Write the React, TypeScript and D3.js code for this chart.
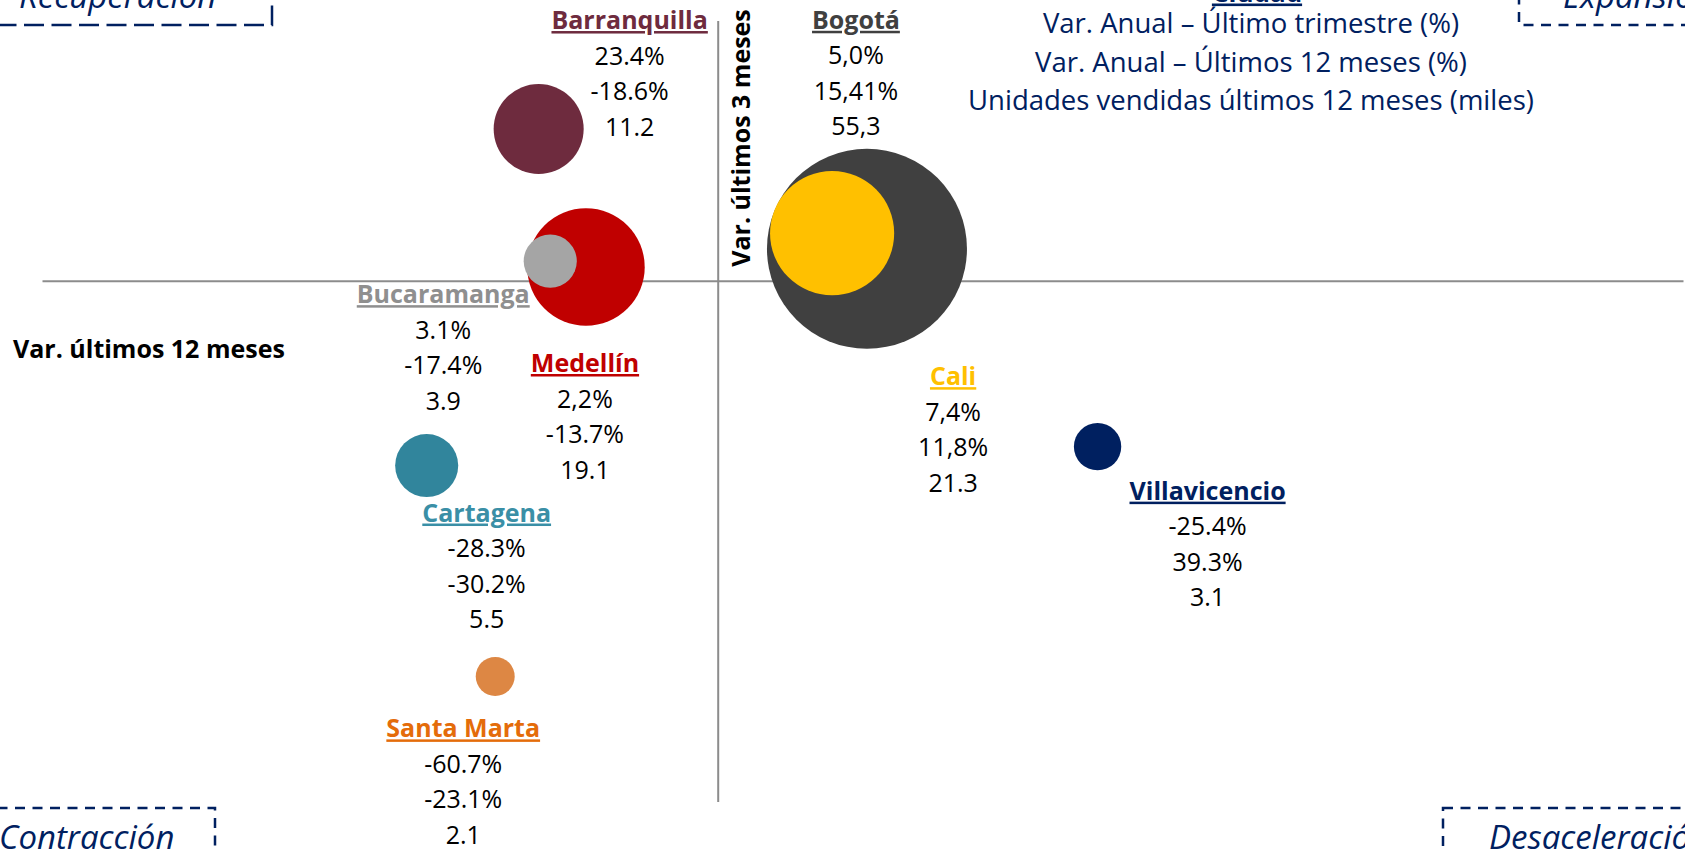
import React, { useEffect, useRef } from "react";
import * as d3 from "d3";

// Datos por ciudad
const cities = ["Bogotá", "Cali", "Medellín", "Bucaramanga", "Barranquilla", "Cartagena", "Santa Marta", "Villavicencio"];
const varTrimestre = [5.0, 7.4, 2.2, 3.1, 23.4, -28.3, -60.7, -25.4];
const var12Meses = [15.41, 11.8, -13.7, -17.4, -18.6, -30.2, -23.1, 39.3];
const unidades = [55.3, 21.3, 19.1, 3.9, 11.2, 5.5, 2.1, 3.1];

// Etiquetas tal como aparecen en la lámina
const trimLabels = ["5,0%", "7,4%", "2,2%", "3.1%", "23.4%", "-28.3%", "-60.7%", "-25.4%"];
const meses12Labels = ["15,41%", "11,8%", "-13.7%", "-17.4%", "-18.6%", "-30.2%", "-23.1%", "39.3%"];
const unidadesLabels = ["55,3", "21.3", "19.1", "3.9", "11.2", "5.5", "2.1", "3.1"];

const legendLines = [
  "Var. Anual – Último trimestre (%)",
  "Var. Anual – Últimos 12 meses (%)",
  "Unidades vendidas últimos 12 meses (miles)",
];

const quadrants = ["Recuperación", "Expansión", "Contracción", "Desaceleración"];

const W = 1685;
const H = 850;

const bubbleColors: Record<string, string> = {
  "Bogotá": "#404040",
  "Cali": "#FFC000",
  "Medellín": "#C00000",
  "Bucaramanga": "#A5A5A5",
  "Barranquilla": "#6E2B3E",
  "Cartagena": "#31859C",
  "Santa Marta": "#DD8744",
  "Villavicencio": "#002060",
};

const nameColors: Record<string, string> = {
  ...bubbleColors,
  "Bucaramanga": "#8F8F8F",
  "Santa Marta": "#E46C0A",
  "Cartagena": "#3A8FA6",
};

// desplazamiento de cada bloque de etiqueta respecto al centro de la burbuja
const labelOffset: Record<string, [number, number]> = {
  "Bogotá": [-11, -220],
  "Cali": [121, 152],
  "Medellín": [-1, 105],
  "Bucaramanga": [-107, 42],
  "Barranquilla": [91, -100],
  "Cartagena": [60, 56],
  "Santa Marta": [-32, 61],
  "Villavicencio": [110, 53],
};

const NAVY = "#002060";
const FONT = "'Open Sans', 'Noto Sans', sans-serif";

const App: React.FC = () => {
  const svgRef = useRef<SVGSVGElement>(null);

  useEffect(() => {
    if (!svgRef.current) return;
    const svg = d3.select(svgRef.current);
    svg.selectAll("*").remove();

    const x = d3.scaleLinear().domain([-70, 100]).range([42.5, 1683.5]);
    const y = d3.scaleLinear().domain([-80, 40]).range([802, 21]);
    const r = d3.scaleSqrt().domain([0, d3.max(unidades) as number]).range([0, 100]);

    // Ejes (cruz)
    svg.append("line")
      .attr("x1", x(-70)).attr("x2", x(100))
      .attr("y1", y(0)).attr("y2", y(0))
      .attr("stroke", "#8C8C8C").attr("stroke-width", 2);
    svg.append("line")
      .attr("x1", x(0)).attr("x2", x(0))
      .attr("y1", y(40)).attr("y2", y(-80))
      .attr("stroke", "#8C8C8C").attr("stroke-width", 2);

    // Burbujas
    const data = cities.map((c, i) => ({
      city: c,
      t: varTrimestre[i],
      m: var12Meses[i],
      u: unidades[i],
      i,
    }));

    svg.append("g")
      .selectAll("circle")
      .data(data)
      .enter()
      .append("circle")
      .attr("cx", d => x(d.m))
      .attr("cy", d => y(d.t))
      .attr("r", d => r(d.u))
      .attr("fill", d => bubbleColors[d.city]);

    // Etiquetas
    const lineH = 35.5;
    data.forEach(d => {
      const [dx, dy] = labelOffset[d.city];
      const cx = x(d.m) + dx;
      const by = y(d.t) + dy;
      svg.append("text")
        .attr("x", cx).attr("y", by)
        .attr("text-anchor", "middle")
        .attr("font-family", FONT)
        .attr("font-size", 25)
        .attr("font-weight", "bold")
        .attr("fill", nameColors[d.city])
        .style("text-decoration", "underline")
        .text(d.city);
      [trimLabels[d.i], meses12Labels[d.i], unidadesLabels[d.i]].forEach((s, k) => {
        svg.append("text")
          .attr("x", cx).attr("y", by + lineH * (k + 1))
          .attr("text-anchor", "middle")
          .attr("font-family", FONT)
          .attr("font-size", 25)
          .attr("fill", "#000")
          .text(s);
      });
    });

    // Títulos de ejes
    svg.append("text")
      .attr("x", 13).attr("y", 358)
      .attr("font-family", FONT)
      .attr("font-size", 25)
      .attr("font-weight", "bold")
      .attr("fill", "#000")
      .text("Var. últimos 12 meses");
    svg.append("text")
      .attr("transform", `translate(750,138) rotate(-90)`)
      .attr("text-anchor", "middle")
      .attr("font-family", FONT)
      .attr("font-size", 25)
      .attr("font-weight", "bold")
      .attr("fill", "#000")
      .text("Var. últimos 3 meses");

    // Leyenda
    svg.append("text")
      .attr("x", 1257).attr("y", 1.5)
      .attr("text-anchor", "middle")
      .attr("font-family", FONT)
      .attr("font-size", 26)
      .attr("font-weight", "bold")
      .attr("fill", NAVY)
      .style("text-decoration", "underline")
      .text("Ciudad");
    legendLines.forEach((s, k) => {
      svg.append("text")
        .attr("x", 1251).attr("y", 33 + k * 38.7)
        .attr("text-anchor", "middle")
        .attr("font-family", FONT)
        .attr("font-size", 27.5)
        .attr("fill", NAVY)
        .text(s);
    });

    // Cuadrantes
    const boxes = [
      { x0: -20, x1: 272, y0: -60, y1: 25, tx: 19, ty: 7.5, dash: "20,7.5", label: quadrants[0] },
      { x0: 1519, x1: 1720, y0: -60, y1: 25, tx: 1563, ty: 7.5, dash: "10,7.5", label: quadrants[1] },
      { x0: -20, x1: 215, y0: 808, y1: 900, tx: -1, ty: 849, dash: "10,7.5", label: quadrants[2] },
      { x0: 1443, x1: 1720, y0: 808, y1: 900, tx: 1489, ty: 849, dash: "10,7.5", label: quadrants[3] },
    ];
    boxes.forEach(b => {
      svg.append("rect")
        .attr("x", b.x0).attr("y", b.y0)
        .attr("width", b.x1 - b.x0).attr("height", b.y1 - b.y0)
        .attr("fill", "none")
        .attr("stroke", NAVY)
        .attr("stroke-width", 2.5)
        .attr("stroke-dasharray", b.dash);
      svg.append("text")
        .attr("x", b.tx).attr("y", b.ty)
        .attr("font-family", FONT)
        .attr("font-size", 33)
        .attr("font-style", "italic")
        .attr("fill", NAVY)
        .text(b.label);
    });
  }, []);

  return (
    <svg
      ref={svgRef}
      width={W}
      height={H}
      style={{ position: "fixed", left: 0, top: 0, background: "#fff" }}
    />
  );
};

export default App;
